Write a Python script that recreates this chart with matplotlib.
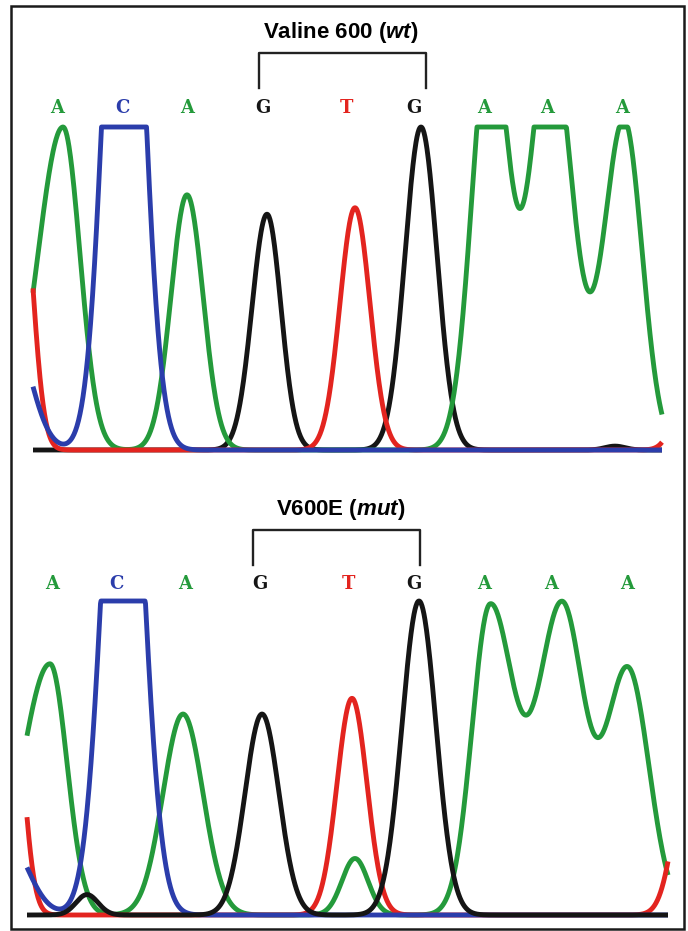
import numpy as np
import matplotlib.pyplot as plt
from matplotlib.patches import Rectangle

plt.rcParams['mathtext.fontset'] = 'custom'
plt.rcParams['mathtext.it'] = 'Liberation Sans:italic:bold'
plt.rcParams['mathtext.rm'] = 'Liberation Sans:bold'

# cores dos canais
cores = {'A': '#249a3b', 'C': '#2b3dab', 'G': '#151515', 'T': '#e3241f'}
canal_cor = {'green': cores['A'], 'blue': cores['C'], 'black': cores['G'], 'red': cores['T']}

# sequencia lida (igual nos dois paineis)
bases = ['A', 'C', 'A', 'G', 'T', 'G', 'A', 'A', 'A']
pos_wt = [57, 122, 187, 263, 346, 414, 484, 547, 622]
pos_mut = [52, 116, 185, 260, 348, 414, 484, 551, 627]

# picos do painel wt: canal, centro, altura, largura esq., largura dir.
wt_canal = ['red', 'blue', 'green', 'blue', 'green', 'black', 'red', 'black',
            'green', 'green', 'green', 'black', 'red']
wt_centro = [20, 10, 63, 124, 187, 267, 355, 421, 490, 550, 624, 615, 700]
wt_altura = [0.9, 0.38, 1.0, 2.2, 0.79, 0.73, 0.75, 1.0, 1.3, 1.3, 1.02, 0.012, 0.6]
wt_sig_esq = [12, 20, 25, 18, 16, 15, 15, 16, 18, 19, 20, 10, 15]
wt_sig_dir = [12, 20, 17, 18, 16, 14, 15, 16, 19, 22, 18, 10, 15]

# picos do painel mutante
mut_canal = ['red', 'blue', 'green', 'black', 'blue', 'green', 'black', 'red',
             'green', 'black', 'green', 'green', 'green', 'red']
mut_centro = [10, 5, 50, 87, 123, 183, 262, 352, 355, 419, 490, 562, 628, 690]
mut_altura = [0.85, 0.25, 0.80, 0.065, 2.0, 0.64, 0.64, 0.69, 0.18, 1.0, 0.98, 0.98, 0.78, 0.5]
mut_sig_esq = [12, 22, 28, 11, 19, 20, 17, 15, 13, 17, 18, 24, 22, 15]
mut_sig_dir = [12, 22, 17, 11, 19, 20, 17, 15, 13, 17, 24, 22, 21, 15]


def traco(x, centros, alturas, s_esq, s_dir):
    y = np.zeros_like(x, dtype=float)
    for c, h, se, sd in zip(centros, alturas, s_esq, s_dir):
        s = np.where(x < c, se, sd)
        y += h * np.exp(-(x - c) ** 2 / (2.0 * s ** 2))
    return np.minimum(y, 1.0)


def painel(ax, x0, x1, canal, centro, altura, se, sd, ordem, pos, titulo, y_let, y_tit, colchete):
    x = np.arange(x0, x1 + 0.5, 0.5)
    canal = np.array(canal)
    for i, ch in enumerate(ordem):
        m = canal == ch
        y = traco(x, np.array(centro)[m], np.array(altura)[m], np.array(se)[m], np.array(sd)[m])
        ax.plot(x, y, color=canal_cor[ch], lw=3.5, zorder=2 + i, clip_on=False,
                solid_joinstyle='round', solid_capstyle='butt')
    for b, px in zip(bases, pos):
        ax.text(px, y_let, b, color=cores[b], ha='center', va='center',
                family='DejaVu Serif', fontweight='bold', fontsize=13)
    ax.text(341, y_tit, titulo, ha='center', va='center', fontsize=16,
            family='Liberation Sans', fontweight='bold')
    xa, xb, ya, yb = colchete
    ax.plot([xa, xa, xb, xb], [yb, ya, ya, yb], color='#222222', lw=1.7, clip_on=False)
    ax.set_xlim(0, 688)
    ax.axis('off')


fig = plt.figure(figsize=(6.88, 9.31), dpi=100)
H = 931.0

# painel superior: linha base em y=450 px, escala 323 px
b_px, esc = 450, 323
lo, hi = -0.15, 1.38
ax1 = fig.add_axes([0, (H - (b_px - lo * esc)) / H, 1, (hi - lo) * esc / H])
ax1.set_ylim(lo, hi)
painel(ax1, 33, 662, wt_canal, wt_centro, wt_altura, wt_sig_esq, wt_sig_dir,
       ['black', 'green', 'red', 'blue'], pos_wt, r'Valine 600 ($\mathit{wt}$)',
       1.059, 1.294, (259, 426, 1.229, 1.121))

# painel inferior: linha base em y=915 px, escala 314 px
b_px, esc = 915, 314
lo, hi = -0.04, 1.38
ax2 = fig.add_axes([0, (H - (b_px - lo * esc)) / H, 1, (hi - lo) * esc / H])
ax2.set_ylim(lo, hi)
painel(ax2, 27, 668, mut_canal, mut_centro, mut_altura, mut_sig_esq, mut_sig_dir,
       ['green', 'red', 'blue', 'black'], pos_mut, r'V600E ($\mathit{mut}$)',
       1.054, 1.29, (253, 420, 1.226, 1.115))

# moldura
fig.patches.append(Rectangle((11 / 688, (H - 929) / H), 673 / 688, 923 / H,
                             transform=fig.transFigure, fill=False,
                             edgecolor='#1a1a1a', lw=1.8))

fig.savefig('out.png', dpi=100)
